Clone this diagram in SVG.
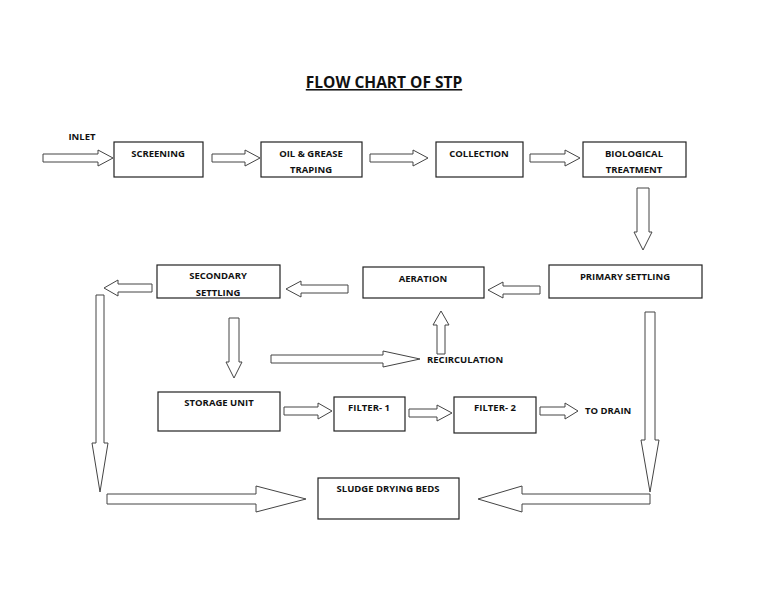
<svg xmlns="http://www.w3.org/2000/svg" width="768" height="594" viewBox="0 0 768 594">
<style>
.b{fill:#fff;stroke:#222;stroke-width:1.2}
.a{fill:#fff;stroke:#444;stroke-width:1}
text{font-family:"Open Sans","Liberation Sans",sans-serif;font-weight:bold;font-size:9.5px;fill:#111;text-anchor:middle}
.s{text-anchor:start}
.t{font-size:15.5px;text-decoration:underline}
</style>
<rect width="768" height="594" fill="#fff"/>
<text class="t" x="384" y="88">FLOW CHART OF STP</text>
<text x="82" y="140">INLET</text>
<g id="screening"><rect class="b" x="114" y="142" width="89" height="35"/><text x="158" y="157">SCREENING</text></g>
<g id="oil"><rect class="b" x="261" y="142" width="101" height="35"/><text x="311" y="157">OIL &amp; GREASE</text><text x="311" y="173">TRAPING</text></g>
<g id="collection"><rect class="b" x="436" y="142" width="87" height="35"/><text x="479" y="157">COLLECTION</text></g>
<g id="bio"><rect class="b" x="583" y="142" width="103" height="35"/><text x="634" y="157">BIOLOGICAL</text><text x="634" y="173">TREATMENT</text></g>
<g id="primary"><rect class="b" x="549" y="265" width="153" height="33"/><text x="625" y="280">PRIMARY SETTLING</text></g>
<g id="aeration"><rect class="b" x="363" y="267" width="121" height="31"/><text x="423" y="282">AERATION</text></g>
<g id="secondary"><rect class="b" x="157" y="265" width="123" height="33"/><text x="218" y="279">SECONDARY</text><text x="218" y="296">SETTLING</text></g>
<g id="storage"><rect class="b" x="158" y="392" width="122" height="39"/><text x="219" y="406">STORAGE UNIT</text></g>
<g id="filter1"><rect class="b" x="334" y="397" width="71" height="34"/><text x="369" y="411">FILTER- 1</text></g>
<g id="filter2"><rect class="b" x="454" y="397" width="82" height="36"/><text x="495" y="411">FILTER- 2</text></g>
<g id="sludge"><rect class="b" x="318" y="478" width="141" height="41"/><text x="388" y="492">SLUDGE DRYING BEDS</text></g>
<g id="labels"><text class="s" x="427" y="363">RECIRCULATION</text><text class="s" x="585" y="414">TO DRAIN</text></g>
<g id="connectors">
<polygon class="a" points="43,154 98,154 98,150 113,158 98,166 98,162 43,162"/>
<polygon class="a" points="212,154 245,154 245,150 260,158 245,166 245,162 212,162"/>
<polygon class="a" points="370,154 413,154 413,150 428,158 413,166 413,162 370,162"/>
<polygon class="a" points="530,154 565,154 565,150 580,158 565,166 565,162 530,162"/>
<polygon class="a" points="637,188 649,188 649,232 652,232 643,250 634,232 637,232"/>
<polygon class="a" points="540,286 503,286 503,282 488,290 503,298 503,294 540,294"/>
<polygon class="a" points="348,285 301,285 301,281 286,289 301,297 301,293 348,293"/>
<polygon class="a" points="152,284 118,284 118,280 104,288 118,296 118,292 152,292"/>
<polygon class="a" points="96,295 104,295 104,443 108,443 100,492 92,443 96,443"/>
<polygon class="a" points="229,318 239,318 239,362 242,362 234,378 226,362 229,362"/>
<polygon class="a" points="271,355 383,355 383,351 420,359 383,367 383,363 271,363"/>
<polygon class="a" points="437,354 445,354 445,325 449,325 441,311 433,325 437,325"/>
<polygon class="a" points="284,407 318,407 318,403 332,411 318,419 318,415 284,415"/>
<polygon class="a" points="409,409 437,409 437,405 452,413 437,421 437,417 409,417"/>
<polygon class="a" points="540,407 565,407 565,403 578,411 565,419 565,415 540,415"/>
<polygon class="a" points="107,494 256,494 256,486 306,499 256,512 256,504 107,504"/>
<polygon class="a" points="645,312 655,312 655,440 659,440 650,492 641,440 645,440"/>
<polygon class="a" points="650,494 522,494 522,486 478,499 522,512 522,504 650,504"/>
</g>
</svg>
